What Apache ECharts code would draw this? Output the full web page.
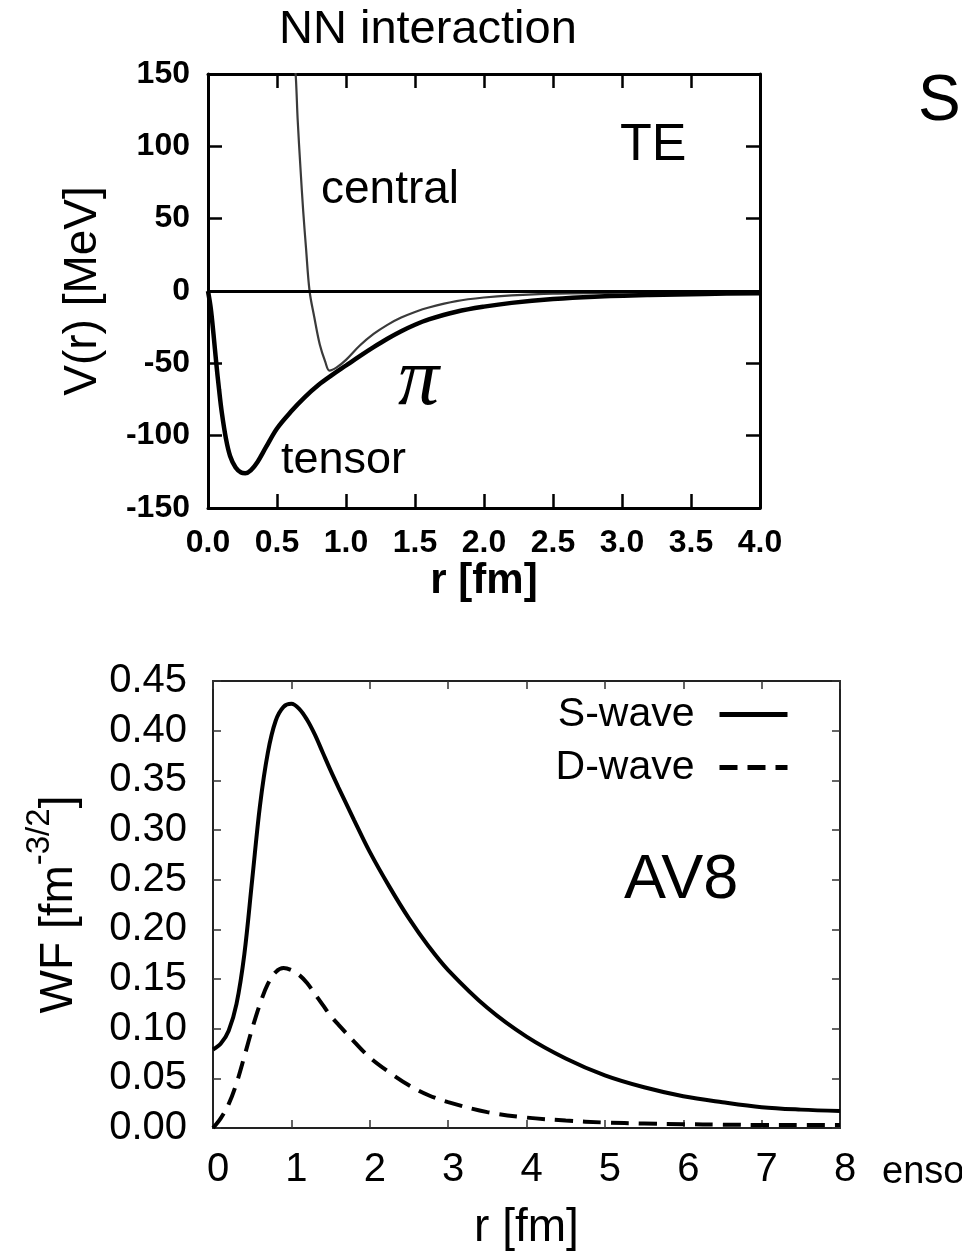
<!DOCTYPE html>
<html>
<head>
<meta charset="utf-8">
<script src="https://cdn.jsdelivr.net/npm/echarts@6/dist/echarts.min.js"></script>
<style>
html,body{margin:0;padding:0;background:#fff;}
#chart{width:962px;height:1255px;}
</style>
</head>
<body>
<div id="chart"></div>
<script>
// ---- Top panel: NN potential (TE) ----
var centralR = [0.60, 0.62, 0.637, 0.65, 0.67, 0.69, 0.71, 0.736, 0.77, 0.81, 0.85, 0.88, 0.93, 1.0, 1.1, 1.2, 1.3, 1.4, 1.5, 1.6, 1.8, 2.0, 2.2, 2.5, 3.0, 3.5, 4.0];
var centralV = [230, 170, 147, 118, 85, 55, 30, 0, -18, -37, -49, -55, -53, -47.6, -37.7, -29.7, -23.4, -18.4, -14.5, -11.4, -7, -4.5, -3, -1.8, -1.2, -0.9, -0.7];
var tensorR = [0, 0.02, 0.04, 0.06, 0.08, 0.1, 0.13, 0.16, 0.2, 0.24, 0.27, 0.31, 0.36, 0.42, 0.5, 0.6, 0.7, 0.8, 0.9, 1.0, 1.1, 1.2, 1.3, 1.4, 1.5, 1.6, 1.8, 2.0, 2.2, 2.5, 2.8, 3.2, 3.6, 4.0];
var tensorV = [0, -12, -30, -50, -68, -84, -102, -114, -122, -125.5, -126, -124, -118, -108, -95, -83.5, -73.5, -65, -58, -51.5, -45, -38.8, -33, -27.8, -23.3, -19.6, -14.3, -10.8, -8.2, -5.6, -4, -2.8, -2, -1.5];
var topXTicks = ['0.0','0.5','1.0','1.5','2.0','2.5','3.0','3.5','4.0'];
var topYTicks = ['-150','-100','-50','0','50','100','150'];

// ---- Bottom panel: deuteron wave functions (AV8) ----
var waveR = [0, 0.1, 0.2, 0.3, 0.4, 0.5, 0.6, 0.7, 0.8, 0.9, 1.0, 1.1, 1.2, 1.3, 1.4, 1.5, 1.6, 1.8, 2.0, 2.25, 2.5, 2.75, 3.0, 3.5, 4.0, 4.5, 5.0, 5.5, 6.0, 6.5, 7.0, 7.5, 8.0];
var sWave = [0.079, 0.085, 0.098, 0.125, 0.175, 0.25, 0.325, 0.378, 0.41, 0.424, 0.427, 0.422, 0.411, 0.396, 0.378, 0.36, 0.343, 0.31, 0.278, 0.243, 0.211, 0.183, 0.159, 0.121, 0.092, 0.07, 0.053, 0.041, 0.032, 0.026, 0.021, 0.0185, 0.017];
var dWave = [0, 0.01, 0.024, 0.045, 0.072, 0.1, 0.125, 0.145, 0.157, 0.161, 0.159, 0.154, 0.146, 0.135, 0.124, 0.113, 0.104, 0.087, 0.071, 0.056, 0.043, 0.033, 0.026, 0.016, 0.0105, 0.0075, 0.0055, 0.0045, 0.0038, 0.0034, 0.003, 0.003, 0.003];

function pairs(xs, ys){ return xs.map(function(x,i){ return [x, ys[i]]; }); }

var FF = '"Liberation Sans", Arial, Helvetica, sans-serif';
var chart = echarts.init(document.getElementById('chart'), null, {renderer:'canvas'});

function frameAxis(extra){
  return Object.assign({
    type:'value',
    splitLine:{show:false},
    axisLine:{show:true, onZero:false, lineStyle:{color:'#000', width:3}},
    axisTick:{show:true, inside:true, length:14, lineStyle:{color:'#000', width:2.5}},
    axisLabel:{show:false}
  }, extra);
}
function frameAxis2(extra){
  return Object.assign({
    type:'value',
    splitLine:{show:false},
    axisLine:{show:true, onZero:false, lineStyle:{color:'#222', width:2}},
    axisTick:{show:true, inside:true, length:8, lineStyle:{color:'#333', width:1.5}},
    axisLabel:{show:false}
  }, extra);
}

var option = {
  backgroundColor:'#fff',
  animation:false,
  title:{
    text:'NN interaction', left:274, top:2,
    textStyle:{fontFamily:FF, fontSize:47, fontWeight:'normal', color:'#000'}
  },
  grid:[
    {left:208, top:74, width:552, height:434},
    {left:213, top:681, width:627, height:447}
  ],
  xAxis:[
    frameAxis({gridIndex:0, min:0, max:4, interval:0.5, position:'bottom',
      axisLabel:{show:true, margin:19, fontFamily:FF, fontSize:32, fontWeight:'bold', color:'#000',
        formatter:function(v){ return topXTicks[Math.round(v/0.5)]; }},
      name:'r [fm]', nameLocation:'middle', nameGap:52,
      nameTextStyle:{fontFamily:FF, fontSize:42, fontWeight:'bold', color:'#000'}}),
    frameAxis({gridIndex:0, min:0, max:4, interval:0.5, position:'top'}),
    frameAxis2({gridIndex:1, min:0, max:8, interval:1, position:'bottom',
      axisLabel:{show:true, margin:22, fontFamily:FF, fontSize:40, color:'#000', padding:[0,0,0,10]},
      name:'r [fm]', nameLocation:'middle', nameGap:77,
      nameTextStyle:{fontFamily:FF, fontSize:46, color:'#000'}}),
    frameAxis2({gridIndex:1, min:0, max:8, interval:1, position:'top'})
  ],
  yAxis:[
    frameAxis({gridIndex:0, min:-150, max:150, interval:50, position:'left',
      axisLabel:{show:true, margin:18, fontFamily:FF, fontSize:32, fontWeight:'bold', color:'#000',
        formatter:function(v){ return topYTicks[Math.round((v+150)/50)]; }},
      name:'V(r) [MeV]', nameLocation:'middle', nameGap:102,
      nameTextStyle:{fontFamily:FF, fontSize:46, color:'#000'}}),
    frameAxis({gridIndex:0, min:-150, max:150, interval:50, position:'right'}),
    frameAxis2({gridIndex:1, min:0, max:0.45, interval:0.05, position:'left',
      axisLabel:{show:true, margin:26, fontFamily:FF, fontSize:40, color:'#000',
        formatter:function(v){ return v.toFixed(2); }},
      name:'{a|WF [fm}{s|-3/2}{a|]}', nameLocation:'middle', nameGap:131,
      nameTextStyle:{color:'#000', rich:{
        a:{fontFamily:FF, fontSize:46, color:'#000', verticalAlign:'bottom'},
        s:{fontFamily:FF, fontSize:33, color:'#000', verticalAlign:'bottom', padding:[0,0,26,0]}
      }}}),
    frameAxis2({gridIndex:1, min:0, max:0.45, interval:0.05, position:'right'})
  ],
  legend:{
    orient:'vertical', right:172, top:694, align:'right', padding:0,
    itemWidth:68, itemHeight:14, itemGap:12,
    data:['S-wave','D-wave'],
    textStyle:{fontFamily:FF, fontSize:41, color:'#000', padding:[0,20,0,0]},
    itemStyle:{color:'rgba(0,0,0,0)', borderWidth:0, opacity:0},
    lineStyle:{width:5}
  },
  series:[
    {name:'central', type:'line', xAxisIndex:0, yAxisIndex:0, data:pairs(centralR, centralV),
      symbol:'none', smooth:0.35, lineStyle:{color:'#3a3a3a', width:2.2}, z:3},
    {name:'tensor', type:'line', xAxisIndex:0, yAxisIndex:0, data:pairs(tensorR, tensorV),
      symbol:'none', smooth:0.35, lineStyle:{color:'#000', width:4.5}, z:4,
      markLine:{silent:true, symbol:'none', label:{show:false},
        lineStyle:{color:'#000', width:3, type:'solid'}, data:[{yAxis:0}]}},
    {name:'S-wave', type:'line', xAxisIndex:2, yAxisIndex:2, data:pairs(waveR, sWave),
      symbol:'none', smooth:0.35, itemStyle:{color:'#000'},
      lineStyle:{color:'#000', width:4}},
    {name:'D-wave', type:'line', xAxisIndex:2, yAxisIndex:2, data:pairs(waveR, dWave),
      symbol:'none', smooth:0.35, itemStyle:{color:'#000'},
      lineStyle:{color:'#000', width:4, type:[18,10]}}
  ],
  graphic:[
    {type:'text', x:620, y:146, style:{text:'TE', font:'normal 52px '+FF, fill:'#000', textVerticalAlign:'middle'}},
    {type:'text', x:321, y:190, style:{text:'central', font:'normal 46px '+FF, fill:'#000', textVerticalAlign:'middle'}},
    {type:'text', x:281, y:461, style:{text:'tensor', font:'normal 45px '+FF, fill:'#000', textVerticalAlign:'middle'}},
    {type:'text', x:398, y:382, style:{text:'\u03c0', font:'italic 82px "Liberation Serif", "DejaVu Serif", serif', fill:'#000', textVerticalAlign:'middle'}},
    {type:'text', x:624, y:881, style:{text:'AV8', font:'normal 63px '+FF, fill:'#000', textVerticalAlign:'middle'}},
    {type:'text', x:918, y:102, style:{text:'S', font:'normal 64px '+FF, fill:'#000', textVerticalAlign:'middle'}},
    {type:'text', x:882, y:1173, style:{text:'enso', font:'normal 38px '+FF, fill:'#000', textVerticalAlign:'middle'}}
  ]
};
chart.setOption(option);
</script>
</body>
</html>
